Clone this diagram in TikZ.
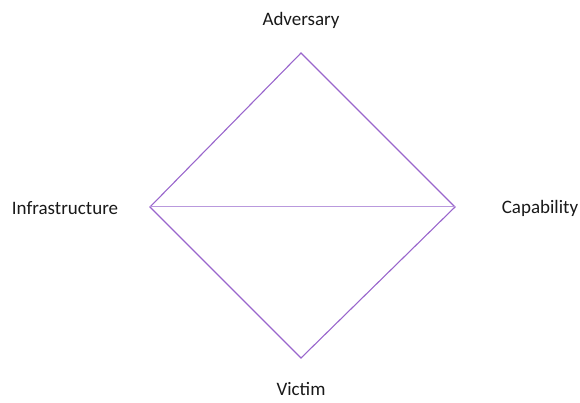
\documentclass[tikz,border=0pt]{standalone}
\usepackage{fontspec}
\setmainfont{Carlito}
\definecolor{diam}{HTML}{9966CC}
\definecolor{diamlight}{HTML}{B999DD}
\begin{document}
\begin{tikzpicture}[x=1pt,y=-1pt,
  lbl/.style={font=\fontsize{19}{22}\selectfont, text=black!90, inner sep=0pt},
  edge/.style={draw=diam, line width=1.1pt},
  edgelight/.style={draw=diamlight, line width=1pt}]
\useasboundingbox (0,0) rectangle (580,403);
\coordinate (A) at (301,53);
\coordinate (I) at (150,207);
\coordinate (C) at (455,207);
\coordinate (V) at (301,358);
\draw[edge, line join=miter] (A) -- (C) -- (V) -- (I) -- cycle;
\draw[edgelight] (I) -- (C);
\node[lbl] (la) at (301,20) {Adversary};
\node[lbl] (li) at (65,208) {Infrastructure};
\node[lbl] (lc) at (540,208) {Capability};
\node[lbl] (lv) at (301,389) {Victim};
\end{tikzpicture}
\end{document}
